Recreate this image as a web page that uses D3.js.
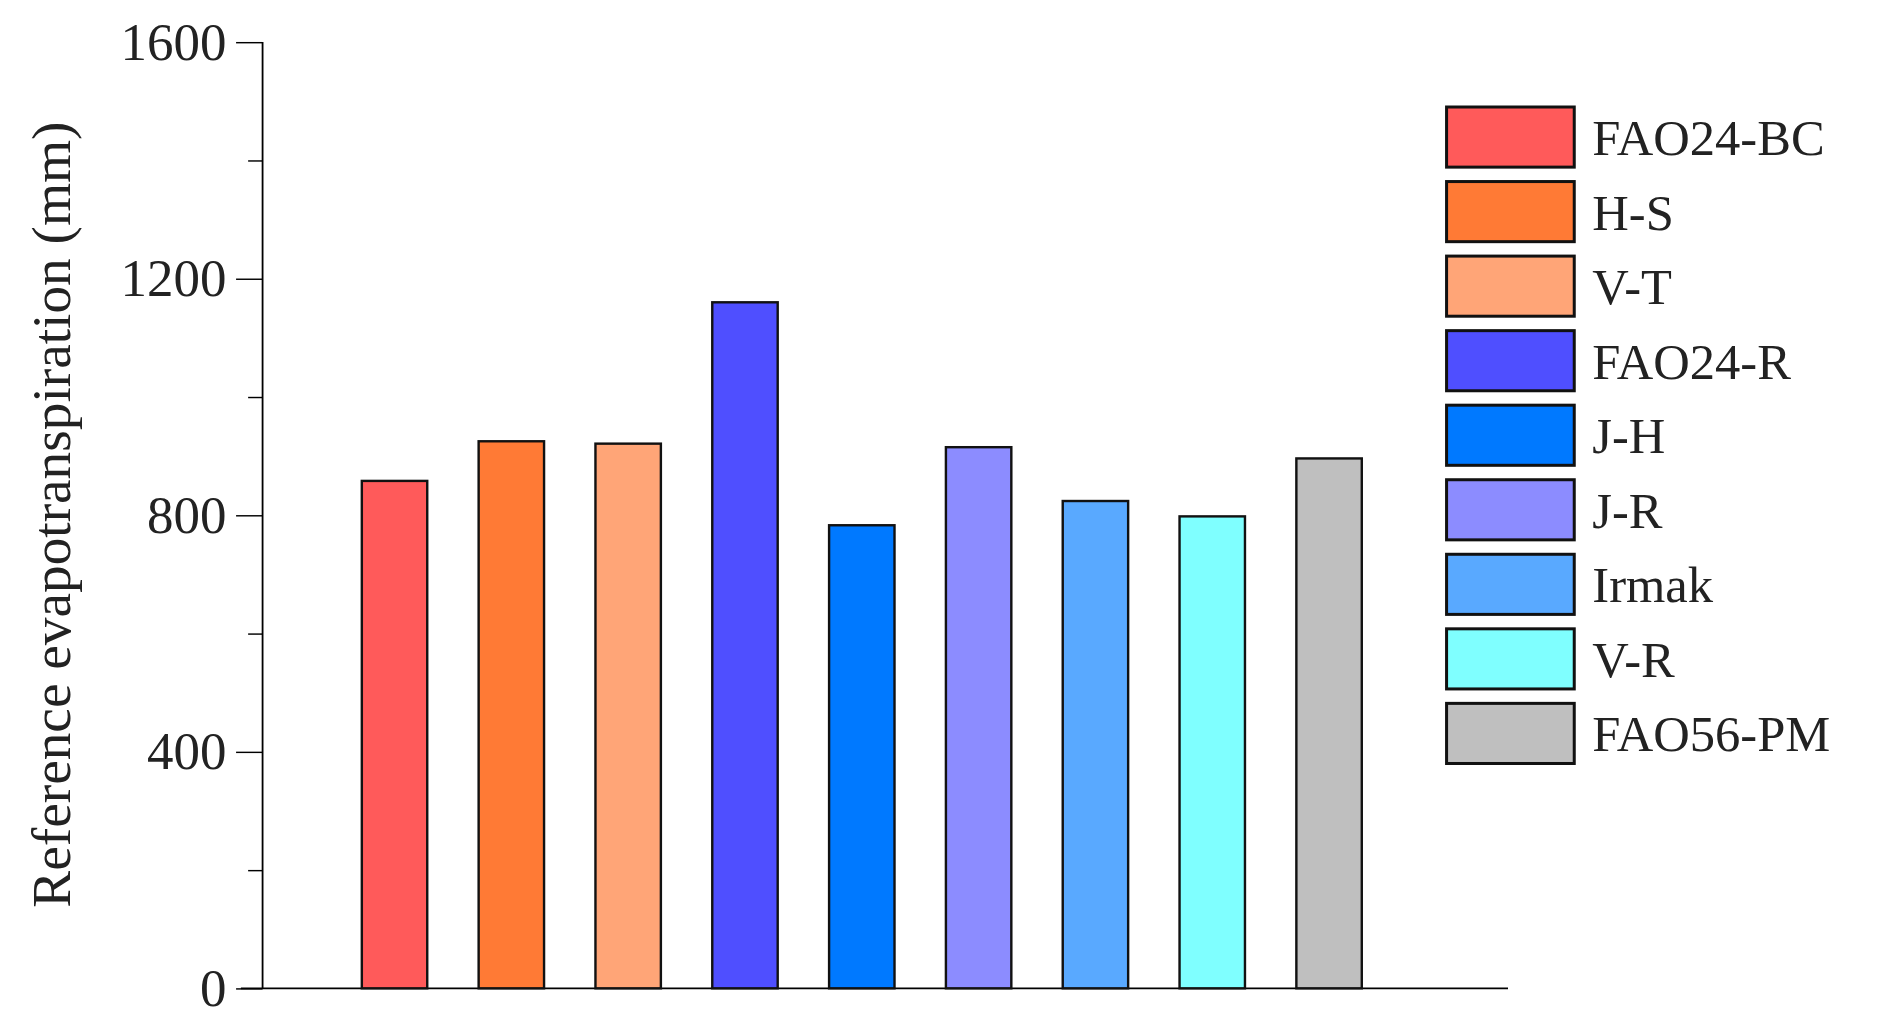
<!DOCTYPE html>
<html>
<head>
<meta charset="UTF-8">
<script src="https://d3js.org/d3.v7.min.js"></script>
<style>
  body { margin: 0; background: #fff; }
  text { font-family: "Liberation Serif", "Times New Roman", serif; }
</style>
</head>
<body>
<div id="chart"></div>
<script>
const methods = ["FAO24-BC", "H-S", "V-T", "FAO24-R", "J-H", "J-R", "Irmak", "V-R", "FAO56-PM"];
const values = [858, 925, 921, 1160, 783, 915, 824, 798, 896];
const colors = ["#FF5A5A", "#FF7A35", "#FFA577", "#4F4FFF", "#0079FF", "#8C8CFF", "#59A9FF", "#7FFFFF", "#BFBFBF"];
const yTicks = [0, 400, 800, 1200, 1600];

// drawn in a 1565x855 frame, stretched to the window
const svg = d3.select("#chart").append("svg")
  .attr("width", 1885).attr("height", 1028)
  .attr("viewBox", "0 0 1565 855")
  .attr("preserveAspectRatio", "none");

const x = d3.scaleBand().domain(methods).range([281, 1150]).paddingInner(0.44).paddingOuter(0.2);
const y = d3.scaleLinear().domain([0, 1600]).range([822, 35]);

svg.append("g").attr("transform", "translate(218,0)")
  .call(d3.axisLeft(y).tickValues(d3.range(0, 1601, 200)).tickSize(22)
    .tickFormat(d => yTicks.includes(d) ? d : ""))
  .call(g => g.select(".domain").attr("stroke-width", 1.5).attr("d", "M0,35V822"))
  .call(g => g.selectAll(".tick line").attr("stroke-width", 1.2)
    .attr("x2", d => yTicks.includes(d) ? -22 : -12))
  .call(g => g.selectAll(".tick text").attr("x", -30).attr("font-size", 44)
    .attr("font-family", "Liberation Serif").attr("fill", "#222"));

svg.append("line").attr("x1", 200).attr("x2", 1252).attr("y1", 822).attr("y2", 822)
  .attr("stroke", "#000").attr("stroke-width", 1.5);

svg.selectAll(".bar").data(methods).enter().append("rect")
  .attr("x", d => x(d)).attr("width", x.bandwidth())
  .attr("y", (d, i) => y(values[i])).attr("height", (d, i) => y(0) - y(values[i]))
  .attr("fill", (d, i) => colors[i]).attr("stroke", "#111").attr("stroke-width", 2);

svg.append("text").attr("transform", "translate(58,428) rotate(-90)")
  .attr("text-anchor", "middle").attr("font-size", 46).attr("fill", "#222")
  .text("Reference evapotranspiration (mm)");

const leg = svg.append("g").selectAll("g").data(methods).enter().append("g")
  .attr("transform", (d, i) => `translate(1201,${89 + i * 62})`);
leg.append("rect").attr("width", 106).attr("height", 50)
  .attr("fill", (d, i) => colors[i]).attr("stroke", "#111").attr("stroke-width", 2.5);
leg.append("text").attr("x", 121).attr("y", 40).attr("font-size", 42).attr("fill", "#222")
  .text(d => d);
</script>
</body>
</html>
